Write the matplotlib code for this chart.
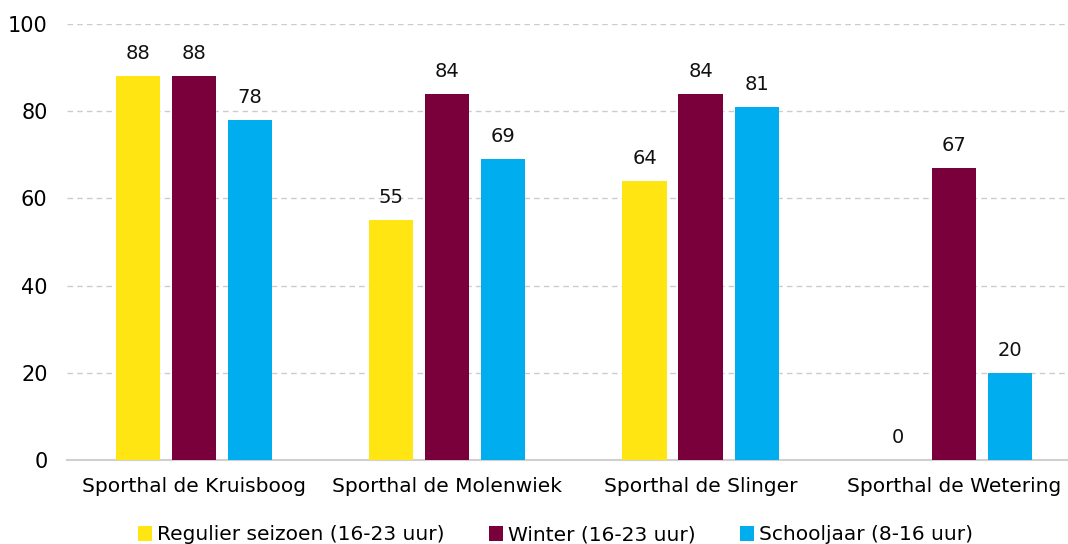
import matplotlib
matplotlib.use("Agg")
import matplotlib.pyplot as plt
import numpy as np

categories = ["Sporthal de Kruisboog", "Sporthal de Molenwiek", "Sporthal de Slinger", "Sporthal de Wetering"]
series_names = ["Regulier seizoen (16-23 uur)", "Winter (16-23 uur)", "Schooljaar (8-16 uur)"]
regulier = [88, 55, 64, 0]
winter = [88, 84, 84, 67]
schooljaar = [78, 69, 81, 20]
colors = ["#FFE512", "#7A003C", "#00AEEF"]

fig = plt.figure(figsize=(10.68, 5.44), dpi=100)
ax = fig.add_axes([67 / 1068, 1 - 460 / 544, 1 - 67 / 1068, 436 / 544])

x = np.arange(len(categories))
w = 0.174
step = 0.221
for i, (vals, name, c) in enumerate(zip([regulier, winter, schooljaar], series_names, colors)):
    pos = x + (i - 1) * step
    ax.bar(pos, vals, width=w, color=c, label=name, zorder=3)
    for p, v in zip(pos, vals):
        ax.text(p, v + 3, str(v), ha="center", va="bottom", fontsize=14, color="#111111")

ax.set_xlim(-0.5, 3.45)
ax.set_ylim(0, 100)
ax.set_yticks([0, 20, 40, 60, 80, 100])
ax.set_xticks(x)
ax.set_xticklabels(categories, fontsize=14.5)
ax.tick_params(axis="y", labelsize=15, length=0, pad=14)
ax.tick_params(axis="x", length=0, pad=12)
ax.grid(axis="y", color="#CCCCCC", linestyle=(0, (4, 3)), linewidth=1, zorder=0)
for s in ["top", "right", "left"]:
    ax.spines[s].set_visible(False)
ax.spines["bottom"].set_color("#D0D0D0")
ax.spines["bottom"].set_linewidth(1.5)

fig.legend(loc="center", bbox_to_anchor=(0.52, 1 - 535 / 544), ncol=3, frameon=False,
           fontsize=14.5, handlelength=0.7, handleheight=0.7, handletextpad=0.25,
           columnspacing=2.2, borderpad=0)

fig.savefig("out.png", dpi=100)
